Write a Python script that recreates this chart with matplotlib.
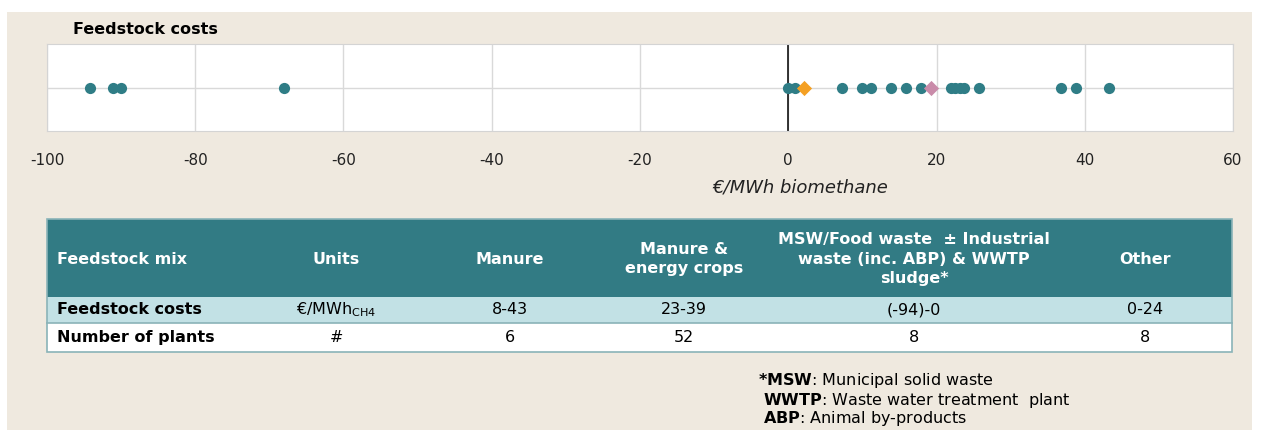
import numpy as np
import matplotlib
matplotlib.use("Agg")
import matplotlib.pyplot as plt
from matplotlib.patches import Rectangle

plt.rcParams['font.family'] = ['DejaVu Sans']
plt.rcParams['axes.unicode_minus'] = False

# plant feedstock costs (EUR/MWh biomethane)
plant_costs = [-94.2, -91.1, -90.0, -68.0, 0.0, 0.9, 7.3, 10.0, 11.1, 13.8, 15.9,
               17.9, 21.9, 22.5, 23.2, 23.7, 25.8, 36.8, 38.8, 43.3]
orange_marker = [2.1]
pink_marker = [19.2]
x_ticks = [-100, -80, -60, -40, -20, 0, 20, 40, 60]

# table contents
col_headers = ["Feedstock mix", "Units", "Manure", "Manure &\nenergy crops",
               "MSW/Food waste  \u00b1 Industrial\nwaste (inc. ABP) & WWTP\nsludge*", "Other"]
row_labels = ["Feedstock costs", "Number of plants"]
row_units = [r"€/MWh$_{\mathregular{CH4}}$", "#"]
cost_ranges = ["8-43", "23-39", "(-94)-0", "0-24"]
n_plants = ["6", "52", "8", "8"]

teal = "#2f7d86"
W, H = 1268, 430
fig = plt.figure(figsize=(W / 100, H / 100), dpi=100, facecolor="white")

# beige panel
fig.patches.append(Rectangle((7 / W, 0), 1245 / W, 1 - 12 / H, transform=fig.transFigure,
                             facecolor="#efe9df", edgecolor="none", zorder=-10))

def fx(px):
    return px / W

def fy(py):
    return 1 - py / H

# dot strip chart
ax = fig.add_axes([fx(47), fy(131), fx(1233) - fx(47), fy(44) - fy(131)])
ax.set_facecolor("white")
ax.set_xlim(-100, 60)
ax.set_ylim(-1, 1)
ax.set_xticks(x_ticks)
ax.set_yticks([])
ax.tick_params(axis="x", length=0, pad=16, labelsize=11, colors="#222222")
ax.grid(axis="x", color="#d9d9d9", lw=1)
ax.axhline(0, color="#d9d9d9", lw=1, zorder=1)
ax.axvline(0, color="black", lw=1.1, zorder=2)
for s in ax.spines.values():
    s.set_color("#d4d4d4")
ax.scatter(plant_costs, np.zeros(len(plant_costs)), s=65, color=teal, zorder=3, linewidths=0)
ax.scatter(orange_marker, np.zeros(len(orange_marker)), s=60, marker="D", color="#f4a024",
           zorder=4, linewidths=0)
ax.scatter(pink_marker, np.zeros(len(pink_marker)), s=60, marker="D", color="#c98ba9",
           zorder=4, linewidths=0)
fig.text(fx(800), fy(188), "€/MWh biomethane", fontsize=13, style="italic", color="#222222",
         ha="center", va="center")
fig.text(fx(73), fy(30), "Feedstock costs", fontsize=11.5, fontweight="bold", va="center")

# table, drawn in pixel coordinates of the panel
tx = fig.add_axes([0, 0, 1, 1], facecolor="none")
tx.set_xlim(0, W)
tx.set_ylim(H, 0)
tx.axis("off")
left, right = 47, 1232
col_edges = [47, 250, 422, 598, 770, 1058, 1232]
rows_y = [219, 297, 323, 352]
tx.add_patch(Rectangle((left, rows_y[0]), right - left, rows_y[1] - rows_y[0], facecolor="#327b84",
                       edgecolor="none"))
tx.add_patch(Rectangle((left, rows_y[1]), right - left, rows_y[2] - rows_y[1], facecolor="#c2e1e5",
                       edgecolor="none"))
tx.add_patch(Rectangle((left, rows_y[2]), right - left, rows_y[3] - rows_y[2], facecolor="white",
                       edgecolor="none"))
tx.add_patch(Rectangle((left, rows_y[0]), right - left, rows_y[3] - rows_y[0], facecolor="none",
                       edgecolor="#8ab3b8", lw=1.2))
tx.plot([left, right], [rows_y[2], rows_y[2]], color="#8ab3b8", lw=1.2)

hy = (rows_y[0] + rows_y[1]) / 2 + 1
for i, h in enumerate(col_headers):
    if i == 0:
        tx.text(57, hy, h, color="white", fontsize=11.5, fontweight="bold", va="center", ha="left")
    else:
        cx = (col_edges[i] + col_edges[i + 1]) / 2
        tx.text(cx, hy, h, color="white", fontsize=11.5, fontweight="bold", va="center",
                ha="center", linespacing=1.35)

row_vals = [cost_ranges, n_plants]
for r in range(2):
    cy = (rows_y[r + 1] + rows_y[r + 2]) / 2
    tx.text(57, cy, row_labels[r], fontsize=11.5, fontweight="bold", va="center", ha="left")
    tx.text((col_edges[1] + col_edges[2]) / 2, cy, row_units[r], fontsize=11.5, va="center", ha="center")
    for j, v in enumerate(row_vals[r]):
        cx = (col_edges[j + 2] + col_edges[j + 3]) / 2
        tx.text(cx, cy, v, fontsize=11.5, va="center", ha="center")

# footnote
notes = [r"$\mathbf{*MSW}$: Municipal solid waste",
         r" $\mathbf{WWTP}$: Waste water treatment  plant",
         r" $\mathbf{ABP}$: Animal by-products"]
for k, n in enumerate(notes):
    tx.text(758, 381 + 19 * k, n, fontsize=11.5, va="center", ha="left")

fig.savefig("out.png", dpi=100, facecolor=fig.get_facecolor())
